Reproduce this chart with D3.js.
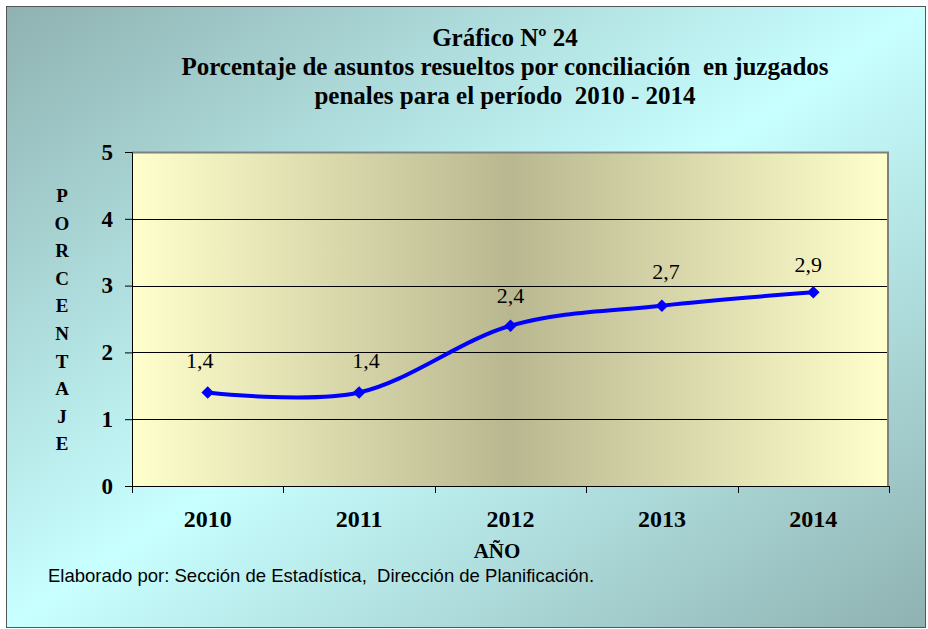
<!DOCTYPE html>
<html>
<head>
<meta charset="utf-8">
<script src="https://cdn.jsdelivr.net/npm/d3@7"></script>
<style>
  body { margin: 0; background: #fff; }
  text { white-space: pre; }
</style>
</head>
<body>
<div id="chart"></div>
<script>
// data
const years = ['2010', '2011', '2012', '2013', '2014'];
const values = [1.4, 1.4, 2.4, 2.7, 2.9];
const valueLabels = ['1,4', '1,4', '2,4', '2,7', '2,9'];
const yTicks = [0, 1, 2, 3, 4, 5];
const titleLines = [
  'Gráfico Nº 24',
  'Porcentaje de asuntos resueltos por conciliación  en juzgados',
  'penales para el período  2010 - 2014'
];
const yLabelLetters = ['P', 'O', 'R', 'C', 'E', 'N', 'T', 'A', 'J', 'E'];

const width = 928, height = 629;
const margin = {top: 152, right: 39, bottom: 143, left: 132};
const innerWidth = width - margin.left - margin.right,
      innerHeight = height - margin.top - margin.bottom;

const serif = '"Liberation Serif", "Times New Roman", serif';

// centre a text on x by measuring it (start anchored)
function centreAt(sel, cx) {
  sel.attr('text-anchor', 'start')
    .attr('x', function(d, i) {
      const c = typeof cx === 'function' ? cx(d, i) : cx;
      return c - this.getComputedTextLength() / 2;
    });
}

const svg = d3.select('#chart').append('svg')
  .attr('width', width)
  .attr('height', height);

const defs = svg.append('defs');

const bg = defs.append('linearGradient')
  .attr('id', 'bg')
  .attr('x1', 0).attr('y1', 0).attr('x2', 1).attr('y2', 1);
bg.append('stop').attr('offset', '0%').attr('stop-color', '#8fb1b1');
bg.append('stop').attr('offset', '50%').attr('stop-color', '#c8ffff');
bg.append('stop').attr('offset', '100%').attr('stop-color', '#8fb1b1');

const plotBg = defs.append('linearGradient')
  .attr('id', 'plotbg')
  .attr('x1', 0).attr('y1', 0).attr('x2', 1).attr('y2', 0);
plotBg.append('stop').attr('offset', '0%').attr('stop-color', '#ffffcc');
plotBg.append('stop').attr('offset', '50%').attr('stop-color', '#b9b78f');
plotBg.append('stop').attr('offset', '100%').attr('stop-color', '#ffffcc');

// outer frame
svg.append('rect')
  .attr('x', 6.5).attr('y', 6.5)
  .attr('width', 919).attr('height', 621)
  .attr('fill', 'url(#bg)')
  .attr('stroke', '#555')
  .attr('stroke-width', 1);

// title
svg.append('g')
  .selectAll('text')
  .data(titleLines)
  .join('text')
  .attr('y', (d, i) => 46 + i * 29)
  .style('font-family', serif)
  .style('font-weight', 'bold')
  .style('font-size', '25px')
  .text(d => d)
  .call(centreAt, 505);

// scales
const xScale = d3.scaleBand()
  .domain(years)
  .range([0, innerWidth]);

const yScale = d3.scaleLinear()
  .domain([0, 5])
  .range([innerHeight, 0]);

const chartInner = svg.append('g')
  .attr('transform', `translate(${margin.left}, ${margin.top})`);

chartInner.append('rect')
  .attr('width', innerWidth)
  .attr('height', innerHeight)
  .attr('fill', 'url(#plotbg)');

// gridlines
chartInner.selectAll('.grid')
  .data(yTicks.filter(d => d > 0 && d < 5))
  .join('line')
  .attr('x1', 0).attr('x2', innerWidth)
  .attr('y1', d => Math.round(yScale(d)) + 0.5)
  .attr('y2', d => Math.round(yScale(d)) + 0.5)
  .attr('stroke', '#000')
  .attr('stroke-width', 1);

// plot border top / right
chartInner.append('path')
  .attr('d', `M0,0.5H${innerWidth - 1}V${innerHeight}`)
  .attr('fill', 'none')
  .attr('stroke', '#808080')
  .attr('stroke-width', 2);

// y axis
const yAxis = chartInner.append('g')
  .call(d3.axisLeft(yScale).tickValues(yTicks).tickSize(7).tickPadding(12).tickFormat(d3.format('d')));
yAxis.select('.domain').attr('stroke', '#000');
yAxis.selectAll('text')
  .style('font-family', serif)
  .style('font-weight', 'bold')
  .style('font-size', '23px');

// x axis
const xAxis = chartInner.append('g')
  .attr('transform', `translate(0, ${innerHeight})`)
  .call(d3.axisBottom(xScale).tickSize(0).tickPadding(24));
xAxis.select('.domain').remove();
xAxis.selectAll('text')
  .style('font-family', serif)
  .style('font-weight', 'bold')
  .style('font-size', '24px');

chartInner.append('line')
  .attr('x1', -7).attr('x2', innerWidth)
  .attr('y1', innerHeight + 0.5).attr('y2', innerHeight + 0.5)
  .attr('stroke', '#000');

// category boundary ticks
chartInner.selectAll('.xtick')
  .data(years.concat(['end']))
  .join('line')
  .attr('x1', (d, i) => Math.round(i * xScale.step()) + 0.5)
  .attr('x2', (d, i) => Math.round(i * xScale.step()) + 0.5)
  .attr('y1', innerHeight)
  .attr('y2', innerHeight + 7)
  .attr('stroke', '#000');

// line
const cx = (d, i) => xScale(years[i]) + xScale.bandwidth() / 2;

const line = d3.line()
  .x(cx)
  .y(d => yScale(d))
  .curve(d3.curveCardinal.tension(0));

chartInner.append('path')
  .datum(values)
  .attr('d', line)
  .attr('fill', 'none')
  .attr('stroke', '#0000ff')
  .attr('stroke-width', 4)
  .attr('stroke-linejoin', 'round');

// markers
chartInner.selectAll('.marker')
  .data(values)
  .join('path')
  .attr('d', d3.symbol(d3.symbolDiamond2, 100))
  .attr('transform', (d, i) => `translate(${cx(d, i)}, ${yScale(d)})`)
  .attr('fill', '#0000ff');

// value labels (hand-nudged in the original, so small offsets)
const labelDx = [-8, 7, 0, 4, -5],
      labelDy = [-24, -24, -23, -27, -20];

chartInner.selectAll('.vlabel')
  .data(values)
  .join('text')
  .attr('y', (d, i) => yScale(d) + labelDy[i])
  .style('font-family', serif)
  .style('font-size', '22px')
  .text((d, i) => valueLabels[i])
  .call(centreAt, (d, i) => cx(d, i) + labelDx[i]);

// axis titles
svg.append('text')
  .attr('y', 558)
  .style('font-family', serif)
  .style('font-weight', 'bold')
  .style('font-size', '21px')
  .text('AÑO')
  .call(centreAt, 497);

svg.append('g')
  .selectAll('text')
  .data(yLabelLetters)
  .join('text')
  .attr('y', (d, i) => 202 + i * 27.6)
  .style('font-family', serif)
  .style('font-weight', 'bold')
  .style('font-size', '19px')
  .text(d => d)
  .call(centreAt, 62);

// footer
svg.append('text')
  .attr('x', 48)
  .attr('y', 582)
  .style('font-family', '"Liberation Sans", Arial, sans-serif')
  .style('font-size', '18.5px')
  .text('Elaborado por: Sección de Estadística,  Dirección de Planificación.');
</script>
</body>
</html>
